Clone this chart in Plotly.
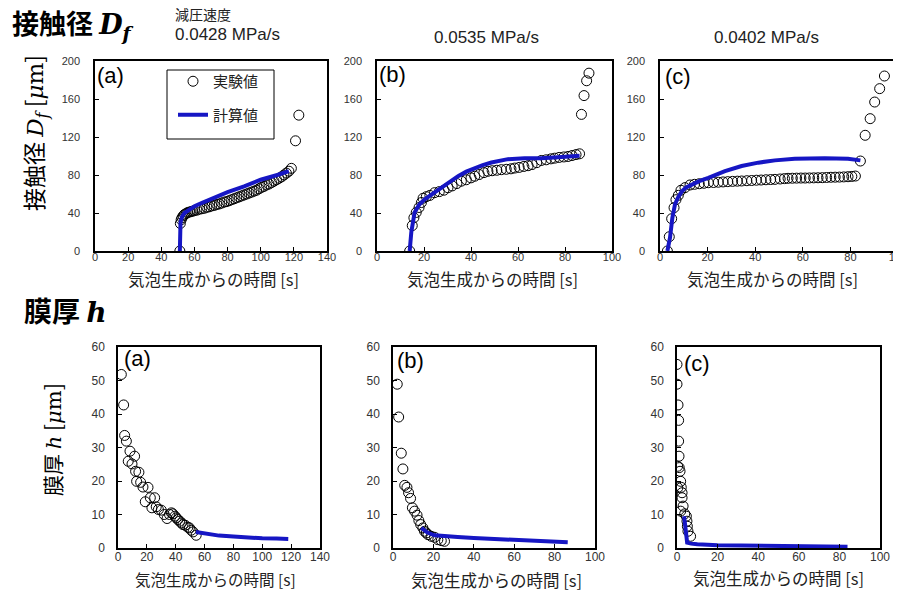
import plotly.graph_objects as go

W, H = 901, 593

# ---------------- data ----------------
# Top (a) contact diameter, 0.0428 MPa/s
ta_exp_x = [51.2, 51.5, 52.0, 52.5, 53.2, 54.0, 55, 56, 57, 58, 59, 60, 61.5, 63, 64.5, 66, 67.5, 69, 70.5, 72,
            73.5, 75, 76.5, 78, 79.5, 81, 82.5, 84, 85.5, 87, 88.5, 90, 91.5, 93, 94.5, 96, 97.5, 99, 100.5, 102,
            103.5, 105, 106.5, 108, 109.5, 111, 112.5, 114, 115.5, 117, 118.5, 121, 123]
ta_exp_y = [0, 29, 33, 35, 37, 38.5, 39.5, 40.5, 41, 41.5, 42, 42.5, 43, 44, 44.5, 45, 46, 46.5, 47.5, 48,
            49, 49.5, 50.5, 51.5, 52, 53, 54, 55, 56, 57, 58, 59, 60, 61, 62, 63, 64, 65.5, 67, 68,
            69.5, 70.5, 72, 73.5, 75, 76.5, 78, 80, 82, 84, 87, 116, 143]
ta_cal_x = [51.2, 51.6, 52.5, 54, 57, 60, 65, 70, 80, 90, 100, 110, 117]
ta_cal_y = [0, 30, 36, 40, 43.5, 47, 51, 55, 62, 68, 75, 80, 84]

# Top (b) contact diameter, 0.0535 MPa/s
tb_exp_x = [13.9, 15.0, 15.7, 16.7, 17.9, 18.9, 19.6, 21.0, 22.5, 24.5, 26.5, 28.5, 30.2, 32, 34, 35.9, 38, 40, 41.6,
            43.5, 45.5, 47.2, 49, 51, 52.9, 55, 57, 58.6, 60.5, 62.5, 64.3, 66, 68, 69.9, 72, 74, 75.6, 77.5, 79.5,
            81.3, 83, 84.7, 86.2, 87.0, 88.1, 89.2, 90.2]
tb_exp_y = [0, 26.7, 35, 40.6, 45.8, 51, 55.5, 57.2, 58.5, 61.4, 62.5, 64, 66.6, 68.5, 71, 73.5, 75, 77, 78.7,
            80.5, 82.5, 83.9, 84.5, 85, 85.6, 86, 86.5, 87.3, 88, 89, 89.8, 91, 93, 95.3, 96, 97, 97.7, 98.5, 99,
            99.5, 100.5, 101.5, 102.3, 143.8, 163.6, 179.2, 187.2]
tb_cal_x = [13.9, 14.6, 16.0, 18, 20.3, 24, 27.4, 31, 34.5, 38, 41.6, 45, 48.7, 52, 55.7, 62.8, 69.9, 77, 86.2]
tb_cal_y = [0, 19.8, 40.6, 49, 54.4, 61, 66.6, 73, 78.7, 83.5, 87.3, 90.5, 93.2, 95.2, 96.7, 97.7, 97.7, 98.8, 100.2]

# Top (c) contact diameter, 0.0402 MPa/s
tc_exp_x = [3.1, 3.9, 4.9, 5.9, 6.7, 7.7, 8.8, 10.5, 12.6, 14.5, 16.5, 18.5, 20.3, 22.5, 24.5, 26.5, 28.5, 30.5,
            32.5, 34.3, 36.5, 38.5, 40.5, 42.5, 44.5, 46.5, 48.3, 50.5, 52.3, 53.8, 55.6, 57.4, 59.2, 61, 62.8,
            64.6, 66.4, 68.2, 70, 71.8, 73.6, 75.4, 77.2, 79, 80.6, 82.1, 84.2, 86.2, 88.3, 90.2, 92.3, 94.3]
tc_exp_y = [0, 15, 34, 45.6, 54, 58.6, 63.9, 66.7, 69.5, 70.2, 70.8, 71.3, 71.9, 72.1, 72.4, 72.7, 73.0, 73.3,
            73.5, 73.7, 74, 74.2, 74.5, 74.7, 75, 75.2, 75.4, 75.8, 76.2, 76.5, 76.6, 76.7, 76.8, 76.8, 76.9,
            77.0, 77.1, 77.2, 77.4, 77.6, 77.7, 77.8, 78.0, 78.2, 78.5, 78.9, 94.7, 121.8, 139.3, 156.8, 170.9, 184.2]
tc_cal_x = [3.1, 4.2, 5.2, 6.3, 7.5, 9.1, 11, 13.3, 16.5, 20.3, 27.3, 34.3, 41.3, 48.3, 56.6, 69.2, 79, 84.2]
tc_cal_y = [0, 14, 35, 49, 56, 62.5, 67, 70, 73.5, 77, 84, 89.5, 93, 95.4, 97.2, 97.5, 97.2, 95.4]

# Bottom (a) film thickness
ba_exp_x = [2.3, 3.9, 4.6, 5.8, 7.1, 8.3, 9.7, 11.5, 12.2, 12.9, 14.5, 15.7, 17.3, 18.9, 20.8, 22.4, 23.5, 25.4,
            26.5, 28, 30, 32, 34, 35.7, 37, 38, 39.5, 40.4, 41.5, 42.7, 44, 45, 46.5, 48.4, 49.5, 50.7, 52, 54.2]
ba_exp_y = [51.8, 42.7, 33.6, 31.9, 25.9, 28.9, 25.1, 27.4, 22.9, 19.9, 22.6, 19.6, 18.2, 13.8, 18.1, 15, 12, 15,
            12.3, 11.5, 11.3, 10, 8.8, 10, 10.5, 10.2, 9.5, 9, 8.5, 8, 7.5, 7, 6.8, 6.2, 6, 5.3, 4.8, 3.8]
ba_cal_x = [54, 60, 70, 80, 90, 100, 110, 118]
ba_cal_y = [4.8, 4.3, 3.7, 3.4, 3.1, 2.9, 2.8, 2.7]

# Bottom (b) film thickness
bb_exp_x = [2.1, 2.8, 4.1, 4.9, 5.8, 6.9, 7.7, 8.7, 9.6, 10.7, 11.9, 12.8, 13.7, 14.8, 15.6, 16.5, 17.3, 18.9,
            20.6, 22.2, 23.9, 25.5]
bb_exp_y = [48.9, 39.1, 28.3, 23.6, 18.7, 18.1, 16.5, 14.8, 12, 11, 9.8, 8.2, 7, 6, 5, 4.5, 4, 3.5,
            3.2, 2.5, 2.2, 2.0]
bb_cal_x = [14, 17, 20.6, 25, 32, 40, 50, 56.8, 70, 86.5]
bb_cal_y = [6.0, 4.6, 3.8, 3.5, 3.3, 3.0, 2.7, 2.5, 2.1, 1.7]

# Bottom (c) film thickness
bc_exp_x = [0, 0, 0.5, 0.8, 0.8, 1.0, 0.3, 1.1, 1.5, 0.4, 1.8, 2.1, 2.5, 2.5, 3.0, 1.8, 3.8, 4.6, 4.9, 5.1, 5.4, 6.7]
bc_exp_y = [54.8, 48.9, 42.7, 38.1, 31.9, 27.4, 24.4, 24.0, 22.9, 18.0, 19.9, 18.1, 16.5, 15, 12.5, 11, 10.2, 9.5,
            8, 6.5, 5, 3.5]
bc_cal_x = [3.5, 4.0, 4.5, 5.0, 7, 10, 20, 30, 40, 50, 60, 70, 84]
bc_cal_y = [9.5, 6.0, 2.5, 1.6, 1.3, 1.1, 0.8, 0.7, 0.6, 0.55, 0.5, 0.45, 0.4]

rates = ["0.0428 MPa/s", "0.0535 MPa/s", "0.0402 MPa/s"]
panel_labels = ["(a)", "(b)", "(c)"]
x_title = "気泡生成からの時間 [s]"
legend_names = ["実験値", "計算値"]

# ---------------- layout helpers ----------------
def px(x):
    return x / W


def py(y):
    return 1 - y / H

FONT = "Liberation Sans, Arial, Noto Sans CJK JP, sans-serif"
JP = "Noto Sans CJK JP, sans-serif"
BLUE = "#1616c4"
DX, DY = -8, -8  # annotation placement correction

panels = [
    (ta_exp_x, ta_exp_y, ta_cal_x, ta_cal_y, 140, 200, 40, 87, 319, 53, 243),
    (tb_exp_x, tb_exp_y, tb_cal_x, tb_cal_y, 100, 200, 40, 369, 604, 53, 243),
    (tc_exp_x, tc_exp_y, tc_cal_x, tc_cal_y, 100, 200, 40, 652, 890, 53, 243),
    (ba_exp_x, ba_exp_y, ba_cal_x, ba_cal_y, 140, 60, 10, 110, 312, 339, 540),
    (bb_exp_x, bb_exp_y, bb_cal_x, bb_cal_y, 100, 60, 10, 385, 587, 339, 540),
    (bc_exp_x, bc_exp_y, bc_cal_x, bc_cal_y, 100, 60, 10, 669, 872, 339, 540),
]

fig = go.Figure()
layout = {}
for i, (ex, ey, cx, cy, xr, yr, dty, x0, x1, y0, y1) in enumerate(panels):
    n = i + 1
    xa = "x" if n == 1 else f"x{n}"
    ya = "y" if n == 1 else f"y{n}"
    fig.add_trace(go.Scatter(
        x=ex, y=ey, mode="markers", xaxis=xa, yaxis=ya,
        name=legend_names[0], showlegend=(n == 1), legendgroup="exp",
        marker=dict(symbol="circle-open", size=10, color="black", line=dict(width=1)),
    ))
    fig.add_trace(go.Scatter(
        x=cx, y=cy, mode="lines", xaxis=xa, yaxis=ya,
        name=legend_names[1], showlegend=(n == 1), legendgroup="cal",
        line=dict(color=BLUE, width=4),
    ))
    axis_common = dict(showline=True, linecolor="black", linewidth=1.5, mirror=True,
                       showgrid=False, zeroline=False, ticks="inside", ticklen=4,
                       tickcolor="black", automargin=False)
    bottom_row = n > 3
    layout["xaxis" if n == 1 else f"xaxis{n}"] = dict(
        axis_common, domain=[px(x0), px(x1)], range=[0, xr], dtick=20,
        anchor=ya, ticklabelstandoff=-3 if bottom_row else -5,
        tickfont=dict(size=12 if bottom_row else 11, color="#333333", family=FONT))
    layout["yaxis" if n == 1 else f"yaxis{n}"] = dict(
        axis_common, domain=[py(y1), py(y0)], range=[0, yr], dtick=dty,
        anchor=xa, ticklabelstandoff=9 if bottom_row else 11,
        tickfont=dict(size=12 if bottom_row else 11, color="#333333", family=FONT))

fig.update_layout(**layout)

ann = []
def add_text(text, x, y, size, family=FONT, xanchor="center", angle=0, color="black"):
    ann.append(dict(text=text, x=px(x + DX), y=py(y + DY), xref="paper", yref="paper",
                    xanchor=xanchor, yanchor="middle", showarrow=False, textangle=angle,
                    align="left" if xanchor == "left" else "center",
                    font=dict(size=size, family=family, color=color)))

# section titles
add_text("<b>接触径 <span style='font-family:DejaVu Serif'><i>D<sub>f</sub></i></span></b>", 10, 23, 27,
         family=JP, xanchor="left")
add_text("<b>膜厚 <span style='font-family:DejaVu Serif'><i>h</i></span></b>", 22, 310, 28,
         family=JP, xanchor="left")
add_text("減圧速度", 173, 14, 14, family=JP, xanchor="left", color="#222222")
add_text(rates[0], 173, 34, 17, xanchor="left", color="#222222")
add_text(rates[1], 486, 37, 17, color="#222222")
add_text(rates[2], 766, 37, 17, color="#222222")

# panel labels
for (lx, ly), lab in zip([(95, 75), (377, 74), (663, 77)], panel_labels):
    add_text(lab, lx, ly, 22, xanchor="left")
for (lx, ly), lab in zip([(122, 358), (395, 360), (682, 363)], panel_labels):
    add_text(lab, lx, ly, 22, xanchor="left")

# x axis titles
for (cx_, cy_), fs in zip([(213, 279), (492, 279), (772, 279), (215, 579), (496, 580), (778, 578)],
                          [16.5, 16.5, 16.5, 15.5, 16.5, 16.5]):
    add_text(x_title, cx_, cy_, fs, family=JP, color="#222222")

# y axis titles
add_text("接触径 <span style='font-family:DejaVu Serif'><i>D<sub>f</sub></i></span> [<span style='font-family:DejaVu Serif'><i>μ</i>m</span>]",
         34, 133, 23, family=JP, angle=-90)
add_text("膜厚 <span style='font-family:DejaVu Serif'><i>h</i></span> [<span style='font-family:DejaVu Serif'><i>μ</i>m</span>]",
         52, 440, 21, family=JP, angle=-90)

fig.update_layout(
    annotations=ann,
    shapes=[dict(type="rect", xref="paper", yref="paper",
                 x0=px(159), x1=px(266), y0=py(131), y1=py(62),
                 line=dict(color="black", width=1), fillcolor="rgba(0,0,0,0)")],
    width=W, height=H,
    margin=dict(l=0, r=0, t=0, b=0, autoexpand=False),
    paper_bgcolor="white", plot_bgcolor="white",
    font=dict(family=FONT),
    showlegend=True,
    legend=dict(x=px(165), y=py(57), xanchor="left", yanchor="top",
                borderwidth=0, bgcolor="rgba(0,0,0,0)",
                font=dict(size=15, family=JP, color="#222222"),
                tracegroupgap=11, itemwidth=30),
)

fig.write_html("out.html")
